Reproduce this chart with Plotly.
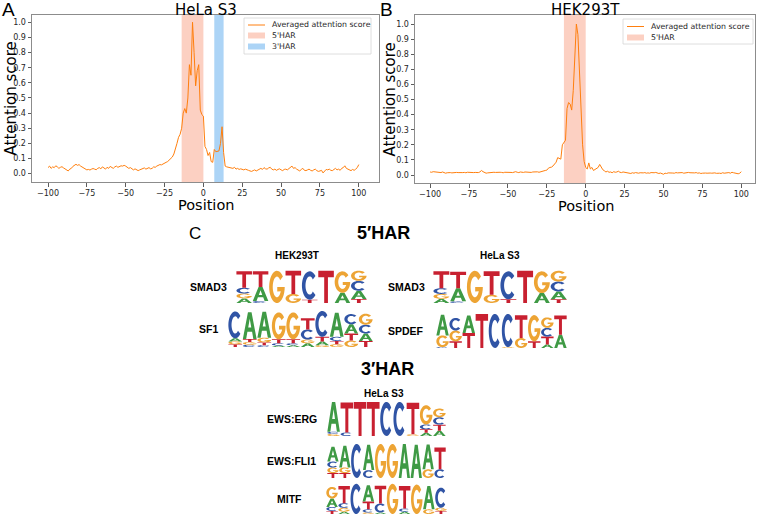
import math
import plotly.graph_objects as go

W, H = 757, 515

# ---------------- data ----------------
positions = list(range(-100, 101))

hela_s3_score = [
    0.040, 0.050, 0.035, 0.045, 0.040, 0.052, 0.045, 0.035, 0.042, 0.046,
    0.038, 0.030, 0.025, 0.018, 0.030, 0.035, 0.048, 0.058, 0.062, 0.055,
    0.060, 0.050, 0.044, 0.040, 0.030, 0.025, 0.028, 0.024, 0.030, 0.034,
    0.030, 0.026, 0.035, 0.040, 0.032, 0.045, 0.038, 0.030, 0.042, 0.035,
    0.048, 0.040, 0.035, 0.045, 0.050, 0.042, 0.048, 0.052, 0.050, 0.055,
    0.050, 0.042, 0.035, 0.040, 0.030, 0.025, 0.032, 0.028, 0.020, 0.025,
    0.030, 0.035, 0.038, 0.030, 0.036, 0.040, 0.032, 0.035, 0.045, 0.042,
    0.050, 0.055, 0.060, 0.058, 0.062,
    0.070, 0.075, 0.080, 0.090, 0.100, 0.110, 0.130, 0.160, 0.200, 0.240, 0.260,
    0.300, 0.400, 0.430, 0.400, 0.500, 0.720, 0.650, 1.000, 0.800, 0.580,
    0.680, 0.720, 0.420, 0.390, 0.380, 0.180, 0.160, 0.120, 0.140, 0.080,
    0.075, 0.160, 0.145, 0.150, 0.150, 0.200, 0.310, 0.140, 0.050, 0.045, 0.042,
    0.040, 0.038, 0.035, 0.042, 0.030, 0.035, 0.028, 0.032, 0.030, 0.025,
    0.030, 0.028, 0.022, 0.018, 0.015, 0.020, 0.025, 0.018, 0.022, 0.030,
    0.035, 0.028, 0.040, 0.032, 0.030, 0.038, 0.042, 0.030, 0.025, 0.030,
    0.022, 0.028, 0.032, 0.025, 0.020, 0.028, 0.030, 0.025, 0.035, 0.040,
    0.050, 0.035, 0.040, 0.030, 0.025, 0.018, 0.028, 0.035, 0.022, 0.020,
    0.025, 0.030, 0.022, 0.018, 0.025, 0.030, 0.020, 0.015, 0.018, 0.022,
    0.005, 0.020, 0.028, 0.025, 0.030, 0.022, 0.020, 0.028, 0.035, 0.025,
    0.030, 0.022, 0.035, 0.040, 0.052, 0.035, 0.030, 0.025, 0.020, 0.028,
    0.022, 0.030, 0.040, 0.060,
]

hek293t_score = [
    0.020, 0.018, 0.022, 0.020, 0.019, 0.021, 0.018, 0.016, 0.020, 0.017,
    0.012, 0.015, 0.018, 0.016, 0.014, 0.016, 0.015, 0.017, 0.016, 0.015,
    0.018, 0.016, 0.017, 0.015, 0.018, 0.017, 0.015, 0.018, 0.016, 0.017,
    0.015, 0.016, 0.020, 0.030, 0.022, 0.016, 0.012, 0.014, 0.016, 0.018,
    0.020, 0.018, 0.017, 0.019, 0.016, 0.018, 0.017, 0.015, 0.018, 0.019,
    0.018, 0.020, 0.017, 0.016, 0.019, 0.022, 0.018, 0.016, 0.020, 0.018,
    0.017, 0.020, 0.018, 0.021, 0.019, 0.017, 0.020, 0.022, 0.019, 0.021,
    0.018, 0.022, 0.024, 0.025, 0.030,
    0.032, 0.045, 0.050, 0.052, 0.060, 0.070, 0.085, 0.115, 0.110, 0.105,
    0.200, 0.220, 0.230, 0.440, 0.480, 0.470, 0.430, 0.560, 0.780, 1.000,
    0.930, 0.660, 0.400, 0.200, 0.090,
    0.050, 0.040, 0.080, 0.040, 0.050, 0.030, 0.035, 0.040, 0.050, 0.070,
    0.050, 0.035, 0.028, 0.020, 0.025, 0.018, 0.020, 0.015, 0.022, 0.018,
    0.020, 0.025, 0.018, 0.016, 0.020, 0.018, 0.016, 0.015, 0.013, 0.010,
    0.015, 0.012, 0.016, 0.014, 0.012, 0.015, 0.013, 0.014, 0.016, 0.012,
    0.014, 0.012, 0.016, 0.013, 0.015, 0.017, 0.012, 0.010, 0.013, 0.008,
    0.005, 0.012, 0.010, 0.014, 0.012, 0.015, 0.013, 0.012, 0.016, 0.014,
    0.015, 0.013, 0.016, 0.012, 0.015, 0.014, 0.017, 0.015, 0.013, 0.012,
    0.014, 0.016, 0.012, 0.014, 0.010, 0.012, 0.015, 0.013, 0.012, 0.010,
    0.013, 0.012, 0.015, 0.014, 0.011, 0.013, 0.012, 0.010, 0.015, 0.012,
    0.014, 0.012, 0.016, 0.012, 0.018, 0.015, 0.012, 0.010, 0.008, 0.012,
    0.022,
]

x_ticks = [-100, -75, -50, -25, 0, 25, 50, 75, 100]
y_ticks = [0.0, 0.1, 0.2, 0.3, 0.4, 0.5, 0.6, 0.7, 0.8, 0.9, 1.0]

hela_har5 = [-14, 0]
hela_har3 = [7, 13]
hek_har5 = [-14, 0]

# sequence logo columns: letter -> height (bits)
logo_smad3_hek = [
    {"A": 0.28, "G": 0.30, "C": 0.34, "T": 1.00},
    {"C": 0.12, "A": 0.85, "T": 0.95},
    {"G": 1.95},
    {"G": 0.55, "T": 1.40},
    {"T": 0.20, "C": 1.72},
    {"T": 1.95},
    {"A": 0.62, "G": 1.30},
    {"T": 0.24, "A": 0.50, "C": 0.60, "G": 0.62},
]
logo_sf1_hek = [
    {"T": 0.15, "G": 0.15, "A": 0.17, "C": 1.45},
    {"C": 0.12, "G": 0.15, "T": 0.16, "A": 1.45},
    {"C": 0.10, "T": 0.15, "G": 0.25, "A": 1.40},
    {"A": 0.08, "C": 0.12, "T": 0.22, "G": 1.45},
    {"A": 0.10, "C": 0.10, "T": 0.22, "G": 1.45},
    {"A": 0.20, "G": 0.20, "C": 0.55, "T": 0.60},
    {"G": 0.10, "A": 0.20, "T": 0.25, "C": 1.40},
    {"G": 0.15, "T": 0.18, "C": 0.22, "A": 1.30},
    {"G": 0.35, "T": 0.38, "A": 0.50, "C": 0.55},
    {"T": 0.33, "A": 0.40, "C": 0.47, "G": 0.60},
]
logo_smad3_hela = [
    {"A": 0.25, "G": 0.30, "C": 0.35, "T": 1.02},
    {"C": 0.10, "A": 0.80, "T": 1.00},
    {"G": 1.95},
    {"G": 0.50, "T": 1.42},
    {"T": 0.22, "C": 1.70},
    {"T": 1.95},
    {"A": 0.60, "G": 1.32},
    {"T": 0.22, "A": 0.48, "C": 0.60, "G": 0.65},
]
logo_spdef_hela = [
    {"C": 0.05, "G": 0.67, "A": 1.18},
    {"T": 0.38, "G": 0.62, "C": 0.72},
    {"T": 0.86, "A": 1.00},
    {"T": 1.95},
    {"C": 1.95},
    {"G": 0.05, "C": 1.90},
    {"G": 0.57, "T": 1.30},
    {"T": 0.38, "G": 1.50},
    {"A": 0.20, "T": 0.45, "C": 0.50, "G": 0.60},
    {"A": 0.76, "T": 1.10},
]
logo_ews_erg = [
    {"G": 0.12, "C": 0.12, "A": 1.70},
    {"C": 0.20, "T": 1.72},
    {"T": 1.95},
    {"T": 1.95},
    {"C": 1.95},
    {"C": 1.95},
    {"G": 0.10, "T": 1.80},
    {"A": 0.18, "T": 0.20, "C": 0.28, "G": 1.10},
    {"A": 0.30, "T": 0.35, "C": 0.42, "G": 0.50},
]
logo_ews_fli1 = [
    {"T": 0.28, "G": 0.32, "C": 0.34, "A": 0.85},
    {"T": 0.28, "G": 0.32, "A": 1.25},
    {"C": 1.95},
    {"C": 0.45, "A": 1.45},
    {"G": 1.95},
    {"G": 1.95},
    {"A": 1.95},
    {"A": 1.90},
    {"G": 0.50, "A": 1.42},
    {"C": 0.50, "T": 1.25},
]
logo_mitf = [
    {"T": 0.20, "C": 0.25, "A": 0.55, "G": 0.75},
    {"A": 0.15, "G": 0.25, "C": 0.30, "T": 1.10},
    {"C": 1.95},
    {"G": 0.10, "C": 0.20, "T": 0.50, "A": 1.05},
    {"A": 0.10, "C": 0.58, "T": 1.15},
    {"G": 1.95},
    {"A": 0.15, "C": 0.20, "T": 1.45},
    {"G": 1.90},
    {"G": 0.30, "A": 1.50},
    {"T": 0.20, "G": 0.20, "C": 1.30},
]

# ---------------- styles / layout ----------------
ORANGE = "#ff7f0e"
HAR5_COLOR = "#fcd0c2"
HAR3_COLOR = "#acd4f6"
LETTER_COLORS = {"A": "#3f9a45", "C": "#3054a5", "G": "#eda434", "T": "#c82030"}
TICK_FONT = dict(family="DejaVu Sans", size=8, color="#262626")
SANS = "Liberation Sans, Arial, sans-serif"


def px_x(x):
    return x / W


def px_y(y):
    return 1 - y / H


def arc(cx, cy, rx, ry, a0, a1, n=30):
    pts = []
    for i in range(n + 1):
        a = math.radians(a0 + (a1 - a0) * i / n)
        pts.append((cx + rx * math.cos(a), cy + ry * math.sin(a)))
    return pts


GLYPHS = {
    "T": [[(0, 1), (1, 1), (1, 0.8), (0.62, 0.8), (0.62, 0), (0.38, 0), (0.38, 0.8), (0, 0.8)]],
    "A": [[(0, 0), (0.37, 1), (0.63, 1), (1, 0), (0.76, 0), (0.67, 0.27), (0.33, 0.27), (0.24, 0)],
          [(0.39, 0.43), (0.61, 0.43), (0.5, 0.76)]],
    "C": [arc(0.5, 0.5, 0.5, 0.5, 42, 318) + arc(0.5, 0.5, 0.27, 0.32, 318, 42)],
    "G": [arc(0.5, 0.5, 0.5, 0.5, 40, 360) + [(0.52, 0.5), (0.52, 0.36)]
          + arc(0.5, 0.5, 0.27, 0.32, 335, 40)],
}

fig = go.Figure()

# ---------- line panels ----------
panels = [
    dict(xa="x", ya="y", scores=hela_s3_score, dom_x=(32, 379), dom_y=(15, 182),
         xr=[-110.3, 113], yr=[-0.055, 1.048],
         regions=[(hela_har5, HAR5_COLOR), (hela_har3, HAR3_COLOR)]),
    dict(xa="x2", ya="y2", scores=hek293t_score, dom_x=(415, 755), dom_y=(15, 183),
         xr=[-109.7, 108.8], yr=[-0.053, 1.06],
         regions=[(hek_har5, HAR5_COLOR)]),
]

layout_axes = {}
shapes = []
annotations = []

for i, p in enumerate(panels):
    fig.add_trace(go.Scatter(x=positions, y=p["scores"], mode="lines",
                             line=dict(color=ORANGE, width=1),
                             xaxis=p["xa"], yaxis=p["ya"], showlegend=False,
                             hoverinfo="skip"))
    suffix = "" if i == 0 else str(i + 1)
    common = dict(showline=True, linecolor="#8c8c8c", linewidth=1, mirror=True,
                  ticks="outside", ticklen=3.5, tickwidth=0.8, tickcolor="#333",
                  showgrid=False, zeroline=False, tickfont=TICK_FONT)
    layout_axes["xaxis" + suffix] = dict(
        common, domain=[px_x(p["dom_x"][0]), px_x(p["dom_x"][1])],
        range=p["xr"], tickvals=x_ticks, anchor=p["ya"])
    layout_axes["yaxis" + suffix] = dict(
        common, domain=[px_y(p["dom_y"][1]), px_y(p["dom_y"][0])],
        range=p["yr"], tickvals=y_ticks, tickformat=".1f", anchor=p["xa"])
    for (x0, x1), col in p["regions"]:
        shapes.append(dict(type="rect", xref=p["xa"], yref=p["ya"] + " domain",
                           x0=x0, x1=x1, y0=0, y1=1, fillcolor=col,
                           line=dict(width=0), layer="below"))

# panel texts
def ann(text, x, y, size, family=SANS, xanchor="center", angle=0, color="black",
        yanchor="middle"):
    annotations.append(dict(text=text, x=px_x(x), y=px_y(y), xref="paper", yref="paper",
                            xanchor=xanchor, yanchor=yanchor, showarrow=False,
                            textangle=angle, font=dict(family=family, size=size, color=color)))

ann("A", 0, 10, 19, xanchor="left")
ann("B", 378, 10, 19, xanchor="left")
ann("HeLa S3", 205.5, -1, 15, family="DejaVu Sans", yanchor="top")
ann("HEK293T", 585, -1, 15, family="DejaVu Sans", yanchor="top")
ann("Attention score", 10.5, 99, 15, family="DejaVu Sans", angle=-90)
ann("Attention score", 389.5, 99, 15, family="DejaVu Sans", angle=-90)
ann("Position", 205.5, 205, 14.5, family="DejaVu Sans")
ann("Position", 585.5, 206, 14.5, family="DejaVu Sans")

# manual legends
def legend(box, rows):
    x0, y0, x1, y1 = box
    shapes.append(dict(type="rect", xref="paper", yref="paper",
                       x0=px_x(x0), x1=px_x(x1), y0=px_y(y1), y1=px_y(y0),
                       line=dict(color="#d6d6d6", width=0.8), fillcolor="rgba(255,255,255,0.8)"))
    for kind, color, label, yc in rows:
        if kind == "line":
            shapes.append(dict(type="line", xref="paper", yref="paper",
                               x0=px_x(x0 + 4), x1=px_x(x0 + 21), y0=px_y(yc), y1=px_y(yc),
                               line=dict(color=color, width=1)))
        else:
            shapes.append(dict(type="rect", xref="paper", yref="paper",
                               x0=px_x(x0 + 4), x1=px_x(x0 + 21), y0=px_y(yc + 3), y1=px_y(yc - 3),
                               line=dict(width=0), fillcolor=color))
        ann(label, x0 + 26, yc, 7.8, family="DejaVu Sans", xanchor="left", color="#262626")

legend((244, 18, 371, 54), [("line", ORANGE, "Averaged attention score", 25),
                            ("rect", HAR5_COLOR, "5'HAR", 35.5),
                            ("rect", HAR3_COLOR, "3'HAR", 46.5)])
legend((623, 19, 753, 44), [("line", ORANGE, "Averaged attention score", 26.5),
                            ("rect", HAR5_COLOR, "5'HAR", 37.5)])

# ---------- panel C: sequence logos ----------
ann("C", 187, 233, 17, xanchor="left")
ann("<b>5′HAR</b>", 383, 233, 18)
ann("<b>3′HAR</b>", 387, 369, 18)
ann("<b>HEK293T</b>", 297, 255, 10)
ann("<b>HeLa S3</b>", 500, 255, 10)
ann("<b>HeLa S3</b>", 384, 393, 10)

logos = [
    (logo_smad3_hek, "SMAD3", (236, 270, 367, 303), 208.5),
    (logo_sf1_hek, "SF1", (228, 310, 373, 347), 208.5),
    (logo_smad3_hela, "SMAD3", (433, 270, 567, 303), 406.5),
    (logo_spdef_hela, "SPDEF", (436, 313, 567, 348), 406.5),
    (logo_ews_erg, "EWS:ERG", (327, 401, 446, 436), 291.5),
    (logo_ews_fli1, "EWS:FLI1", (327, 443, 446, 478), 291.5),
    (logo_mitf, "MITF", (326, 483, 447, 514), 289.5),
]

for k, (cols, name, (l, t, r, b), label_x) in enumerate(logos):
    n = k + 3
    xa, ya = "x%d" % n, "y%d" % n
    layout_axes["xaxis%d" % n] = dict(domain=[px_x(l), px_x(r)], range=[0.5, len(cols) + 0.5],
                                      visible=False, anchor=ya, fixedrange=True)
    layout_axes["yaxis%d" % n] = dict(domain=[px_y(b), px_y(t)], range=[0, 2],
                                      visible=False, anchor=xa, fixedrange=True)
    fig.add_trace(go.Scatter(x=[0.5], y=[0], mode="markers", marker=dict(opacity=0),
                             xaxis=xa, yaxis=ya, showlegend=False, hoverinfo="skip"))
    ann("<b>%s</b>" % name, label_x, (t + b) / 2, 10.5)
    for ci, col in enumerate(cols):
        xc = ci + 1
        w = 0.95
        base = 0.0
        for letter, h in sorted(col.items(), key=lambda kv: kv[1]):
            if h >= 0.03:
                parts = []
                for poly in GLYPHS[letter]:
                    pts = ["%.4f,%.4f" % (xc - w / 2 + u * w, base + v * h) for u, v in poly]
                    parts.append("M" + " L".join(pts) + " Z")
                shapes.append(dict(type="path", xref=xa, yref=ya, path=" ".join(parts),
                                   fillcolor=LETTER_COLORS[letter], line=dict(width=0),
                                   fillrule="evenodd", layer="above"))
            base += h

fig.update_layout(
    width=W, height=H, margin=dict(l=0, r=0, t=0, b=0),
    paper_bgcolor="white", plot_bgcolor="white", showlegend=False,
    shapes=shapes, annotations=annotations, **layout_axes,
)

fig.write_html("out.html", config={"displayModeBar": False, "staticPlot": True},
               post_script="document.body.style.margin='0';document.body.style.overflow='hidden';")
